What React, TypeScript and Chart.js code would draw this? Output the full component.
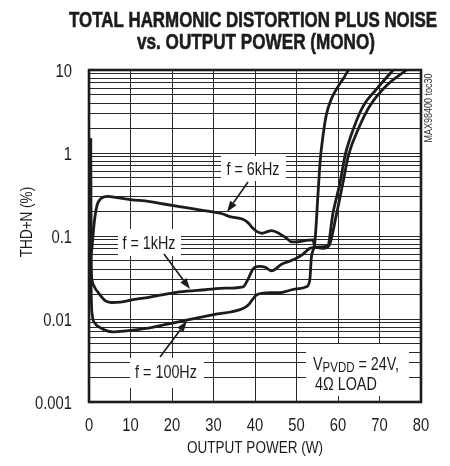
import React, { useEffect, useRef } from 'react';
import { Chart, registerables } from 'chart.js';

Chart.register(...registerables);

const FONT = '"Liberation Sans Narrow", "Arial Narrow", "Liberation Sans", Arial, sans-serif';
const SQUEEZE = 0.82; // horizontal condensing of text (narrow face is not installed)

// ---- data ----
const xTickValues = [0, 10, 20, 30, 40, 50, 60, 70, 80];
const xTickLabels = ['0', '10', '20', '30', '40', '50', '60', '70', '80'];
const yDecades = [0.001, 0.01, 0.1, 1, 10];
const yTickLabels = ['0.001', '0.01', '0.1', '1', '10'];
const yMinorMultipliers = [1, 2, 3, 4, 5, 6, 7, 8, 9];

const power100Hz = [0.4, 0.42, 0.5, 0.6, 0.8, 1.5, 2.5, 4, 5.7, 9, 13.8, 18, 23.5, 30, 37.1, 38.5, 40.3, 42, 43.6, 46, 48.4, 50.5, 52.4, 53.2, 53.6, 54.4, 55.2, 55.7, 56.3, 57.2, 58.5, 60, 61.5, 62.5];
const thd100Hz = [1.5, 0.2, 0.03, 0.015, 0.011, 0.0088, 0.008, 0.0073, 0.007, 0.0072, 0.0077, 0.0085, 0.0097, 0.0113, 0.0134, 0.015, 0.0194, 0.0205, 0.0207, 0.0207, 0.0222, 0.0232, 0.0244, 0.0294, 0.056, 0.082, 0.33, 0.8, 1.5, 2.9, 4.6, 6.3, 8.2, 10];

const power1kHz = [0.4, 0.42, 0.5, 0.7, 1.2, 2.5, 4, 5.4, 7.5, 9.8, 15, 21.8, 28, 33, 37.1, 38.3, 39.5, 41, 42.5, 44, 46.5, 48, 50, 51.5, 53.2, 55.6, 57.5, 58.8, 60.5, 61.7, 63.7, 66.1, 69.3, 73.3];
const thd1kHz = [1.5, 0.3, 0.05, 0.03, 0.025, 0.02, 0.0165, 0.0158, 0.016, 0.0168, 0.0185, 0.0212, 0.0225, 0.0235, 0.0244, 0.03, 0.04, 0.043, 0.042, 0.038, 0.046, 0.049, 0.054, 0.06, 0.071, 0.074, 0.076, 0.19, 0.44, 0.93, 1.95, 3.7, 5.9, 10];

const power6kHz = [0.4, 0.42, 0.5, 0.8, 1.1, 1.5, 2.0, 2.8, 4.5, 6.7, 10, 14.6, 18, 21.8, 27, 32.3, 33.9, 37.1, 38.3, 39.5, 40.5, 41.6, 42.8, 44, 46, 47.5, 48.8, 50, 51.5, 52.8, 54, 54.4, 55.5, 56.4, 57.8, 59.7, 61.2, 62.5, 64.9, 67.7, 71.7, 76.5];
const thd6kHz = [1.5, 0.3, 0.06, 0.08, 0.12, 0.18, 0.24, 0.28, 0.3, 0.29, 0.275, 0.26, 0.243, 0.226, 0.205, 0.184, 0.171, 0.159, 0.145, 0.124, 0.113, 0.108, 0.112, 0.116, 0.106, 0.095, 0.085, 0.085, 0.087, 0.089, 0.09, 0.074, 0.072, 0.071, 0.076, 0.19, 0.44, 0.93, 1.95, 3.7, 6.5, 10];

const titleLines = ['TOTAL HARMONIC DISTORTION PLUS NOISE', 'vs. OUTPUT POWER (MONO)'];
const xTitle = 'OUTPUT POWER (W)';
const yTitle = 'THD+N (%)';
const seriesLabels = ['f = 100Hz', 'f = 1kHz', 'f = 6kHz'];
const noteLine2 = '4\u03A9 LOAD';
const sideNote = 'MAX98400 toc30';

const toPoints = (xs: number[], ys: number[]) => xs.map((x, i) => ({ x, y: ys[i] }));

const INK = '#1c1c1c';

function drawArrow(ctx: CanvasRenderingContext2D, x1: number, y1: number, x2: number, y2: number) {
  const ang = Math.atan2(y2 - y1, x2 - x1);
  const len = 11;
  const hw = 3.8;
  const bx = x2 - len * Math.cos(ang);
  const by = y2 - len * Math.sin(ang);
  ctx.save();
  ctx.strokeStyle = INK;
  ctx.fillStyle = INK;
  ctx.lineWidth = 1.6;
  ctx.beginPath();
  ctx.moveTo(x1, y1);
  ctx.lineTo(bx, by);
  ctx.stroke();
  ctx.beginPath();
  ctx.moveTo(x2, y2);
  ctx.lineTo(bx + hw * Math.sin(ang), by - hw * Math.cos(ang));
  ctx.lineTo(bx - hw * Math.sin(ang), by + hw * Math.cos(ang));
  ctx.closePath();
  ctx.fill();
  ctx.restore();
}

type TextOpts = {
  size: number;
  align?: CanvasTextAlign;
  baseline?: CanvasTextBaseline;
  bold?: boolean;
  width?: number;
  squeeze?: number;
  rotate?: number;
  color?: string;
  stroke?: number;
};

function drawText(ctx: CanvasRenderingContext2D, text: string, x: number, y: number, o: TextOpts) {
  ctx.save();
  ctx.font = `${o.bold ? 'bold ' : ''}${o.size}px ${FONT}`;
  ctx.textAlign = o.align || 'center';
  ctx.textBaseline = o.baseline || 'alphabetic';
  ctx.fillStyle = o.color || INK;
  const w = ctx.measureText(text).width;
  const sx = o.width ? o.width / w : (o.squeeze ?? SQUEEZE);
  ctx.translate(x, y);
  if (o.rotate) ctx.rotate(o.rotate);
  ctx.scale(sx, 1);
  ctx.fillText(text, 0, 0);
  if (o.stroke) {
    ctx.strokeStyle = o.color || INK;
    ctx.lineWidth = o.stroke;
    ctx.strokeText(text, 0, 0);
  }
  ctx.restore();
  return w * sx;
}

const decorPlugin = {
  id: 'decor',
  beforeDatasetsDraw(chart: any) {
    const ctx = chart.ctx as CanvasRenderingContext2D;
    ctx.save();
    ctx.fillStyle = '#ffffff';
    const boxes = [
      [221, 156, 286, 181],
      [118, 229, 181, 256],
      [130, 358, 204, 388],
      [306, 344, 409, 396],
    ];
    boxes.forEach(b => ctx.fillRect(b[0], b[1], b[2] - b[0], b[3] - b[1]));
    ctx.restore();
  },
  afterDatasetsDraw(chart: any) {
    const ctx = chart.ctx as CanvasRenderingContext2D;
    const a = chart.chartArea;
    ctx.save();
    ctx.strokeStyle = INK;
    ctx.lineWidth = 2.6;
    ctx.strokeRect(a.left, a.top, a.right - a.left, a.bottom - a.top);
    ctx.restore();

    // tick labels, placed by the library's scales
    const xs = chart.scales.x;
    xs.ticks.forEach((t: any) => {
      const i = xTickValues.indexOf(t.value);
      if (i >= 0) drawText(ctx, xTickLabels[i], xs.getPixelForValue(t.value), 431, { size: 18 });
    });
    const ys = chart.scales.y;
    ys.ticks.forEach((t: any) => {
      const i = yDecades.findIndex(d => Math.abs(d - t.value) / d < 1e-6);
      if (i >= 0) drawText(ctx, yTickLabels[i], ys.right - 17, ys.getPixelForValue(t.value) + 6.5, { size: 18, align: 'right' });
    });

    // titles
    drawText(ctx, titleLines[0], 253, 27, { size: 22, bold: true, width: 368, stroke: 0.6 });
    drawText(ctx, titleLines[1], 256, 49, { size: 22, bold: true, width: 238, stroke: 0.6 });
    drawText(ctx, xTitle, (a.left + a.right) / 2, 453, { size: 16.5 });
    drawText(ctx, yTitle, 32, 222, { size: 16.5, rotate: -Math.PI / 2 });

    // series labels
    drawText(ctx, seriesLabels[2], 253, 175, { size: 17.5 });
    drawText(ctx, seriesLabels[1], 149, 249, { size: 17.5 });
    drawText(ctx, seriesLabels[0], 166, 378, { size: 17.5 });

    // supply note
    let x = 313;
    x += drawText(ctx, 'V', x, 370, { size: 17.5, align: 'left' });
    x += drawText(ctx, 'PVDD', x, 372, { size: 14, align: 'left' });
    drawText(ctx, ' = 24V,', x, 370, { size: 17.5, align: 'left' });
    drawText(ctx, noteLine2, 315, 390, { size: 17.5, align: 'left' });

    // side note
    drawText(ctx, sideNote, 432, 108, { size: 11, rotate: -Math.PI / 2, color: '#333' });

    drawArrow(ctx, 248, 182, 227, 212);
    drawArrow(ctx, 164, 254, 190, 289);
    drawArrow(ctx, 160, 357, 187, 321);
  },
};

export default function App() {
  const ref = useRef<HTMLCanvasElement | null>(null);

  useEffect(() => {
    if (!ref.current) return;
    const lineStyle = {
      borderColor: INK,
      borderWidth: 2.8,
      pointRadius: 0,
      fill: false,
      cubicInterpolationMode: 'monotone' as const,
    };
    const chart = new Chart(ref.current, {
      type: 'line',
      data: {
        datasets: [
          { label: seriesLabels[0], data: toPoints(power100Hz, thd100Hz), ...lineStyle },
          { label: seriesLabels[1], data: toPoints(power1kHz, thd1kHz), ...lineStyle },
          { label: seriesLabels[2], data: toPoints(power6kHz, thd6kHz), ...lineStyle },
        ],
      },
      options: {
        responsive: false,
        animation: false,
        devicePixelRatio: 1,
        layout: { padding: { left: 0, top: 70, right: 29, bottom: 0 } },
        plugins: {
          legend: { display: false },
          tooltip: { enabled: false },
          title: { display: false },
        },
        scales: {
          x: {
            type: 'linear',
            min: 0,
            max: 80,
            afterBuildTicks: (s: any) => { s.ticks = xTickValues.map(v => ({ value: v })); },
            afterFit: (s: any) => { s.height = 64; },
            ticks: { display: false, autoSkip: false },
            grid: { color: '#2a2a2a', lineWidth: 1, drawTicks: false },
            border: { display: false },
          },
          y: {
            type: 'logarithmic',
            min: 0.001,
            max: 10,
            afterBuildTicks: (s: any) => {
              const t: { value: number }[] = [];
              yDecades.forEach((d, i) => {
                if (i === yDecades.length - 1) { t.push({ value: d }); return; }
                yMinorMultipliers.forEach(m => t.push({ value: parseFloat((d * m).toPrecision(3)) }));
              });
              s.ticks = t;
            },
            afterFit: (s: any) => { s.width = 89; },
            ticks: { display: false, autoSkip: false },
            grid: { color: '#2a2a2a', lineWidth: 1, drawTicks: false },
            border: { display: false },
          },
        },
      },
      plugins: [decorPlugin],
    } as any);
    return () => chart.destroy();
  }, []);

  return (
    <div style={{ position: 'absolute', left: 0, top: 0, width: 450, height: 466, background: '#fff' }}>
      <canvas ref={ref} width={450} height={466} style={{ width: 450, height: 466, display: 'block' }} />
    </div>
  );
}
